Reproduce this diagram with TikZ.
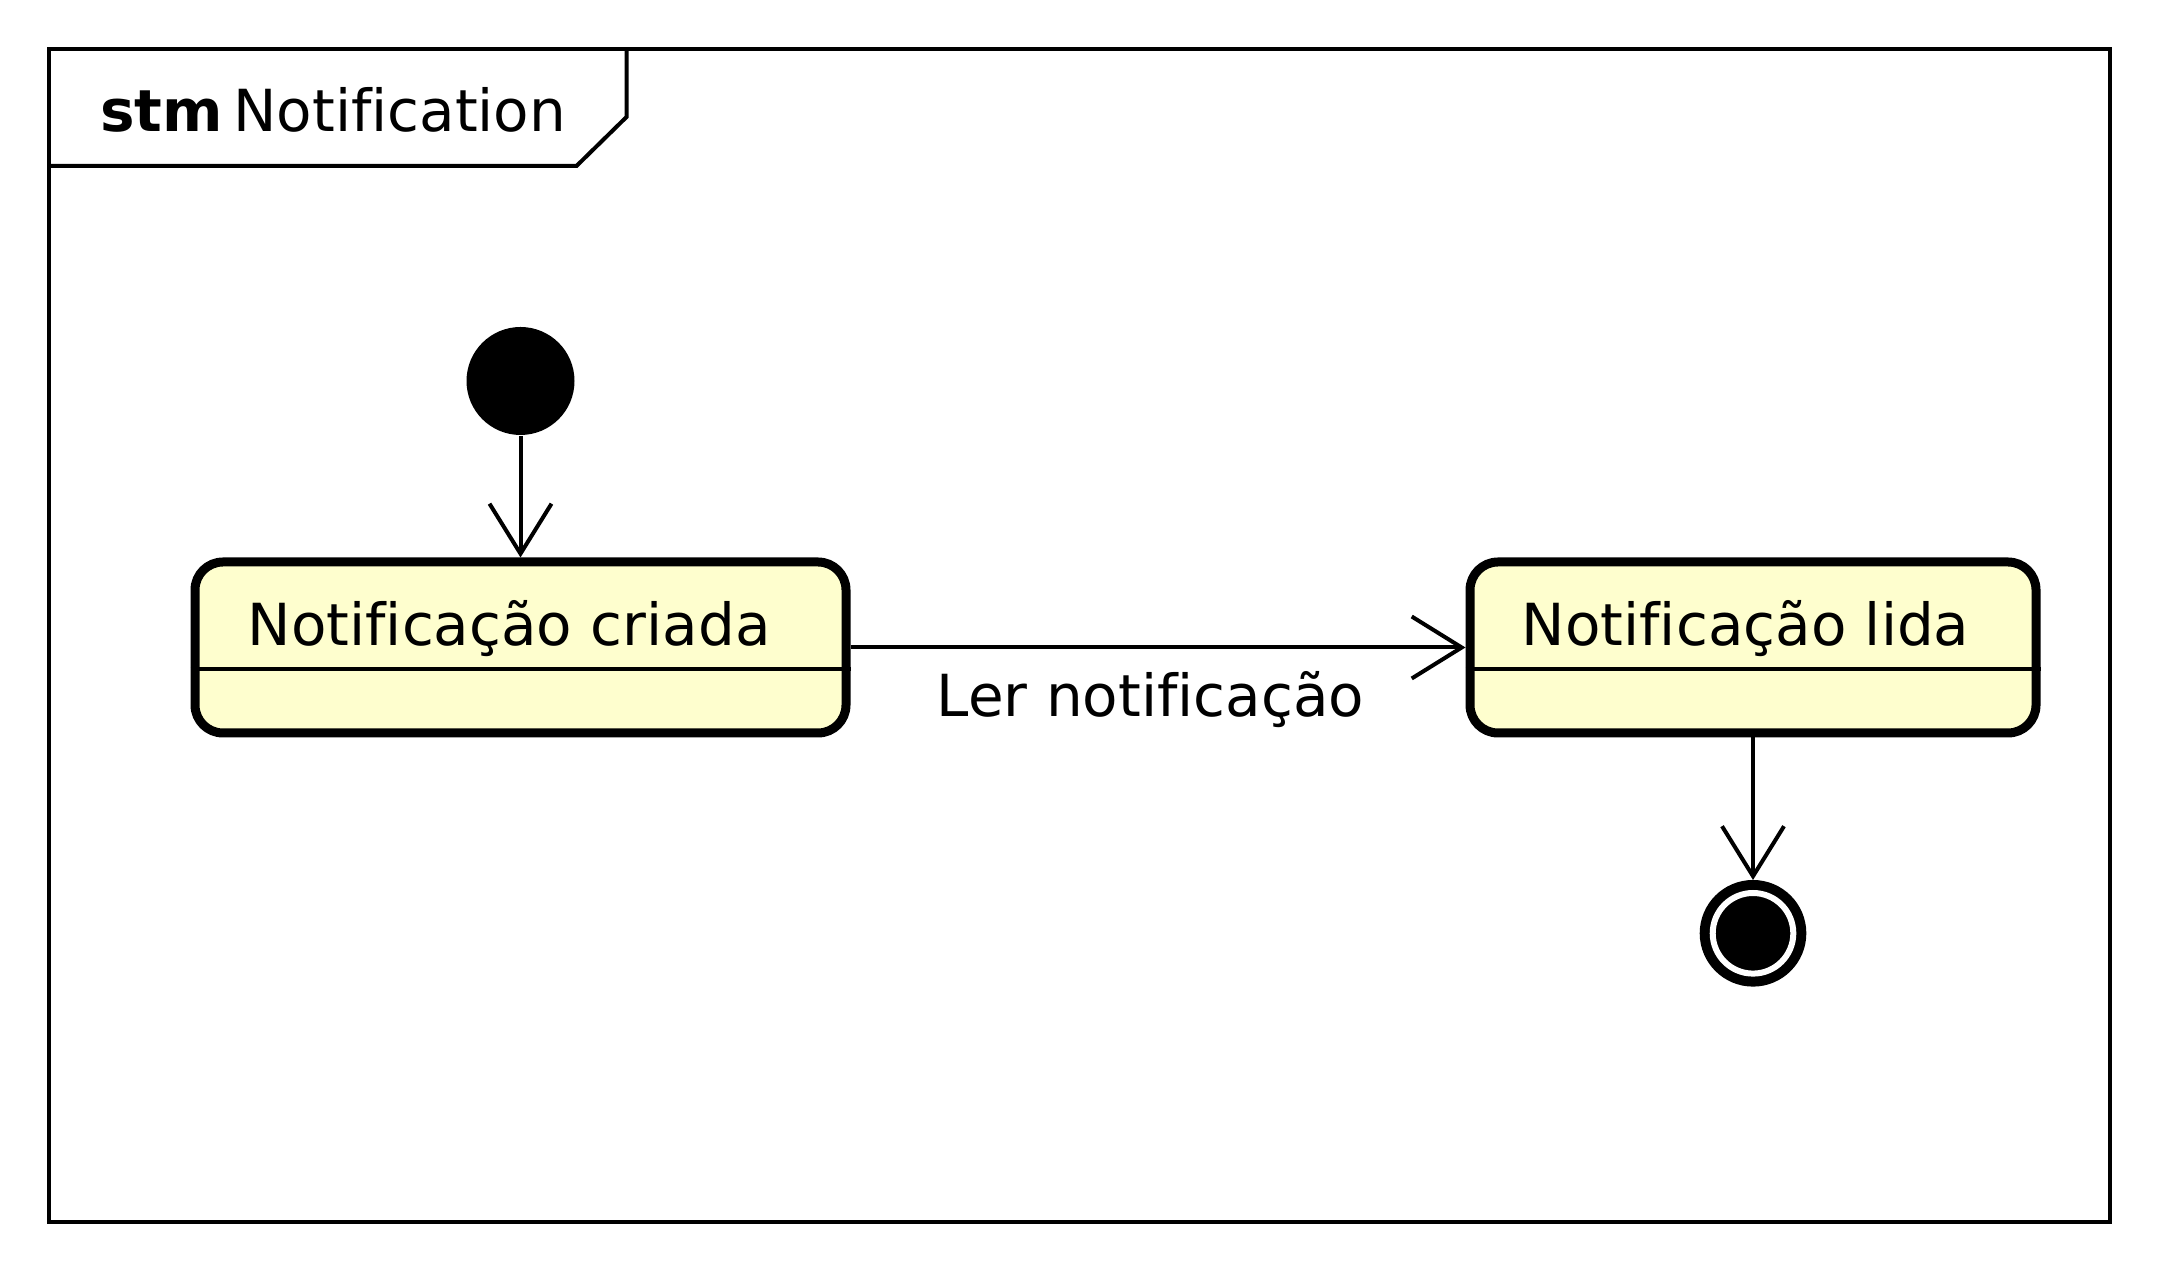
\documentclass[tikz,border=0pt]{standalone}
\usepackage{fontspec}
\setmainfont[Ligatures=NoCommon]{DejaVu Sans}
\usetikzlibrary{arrows.meta}
\definecolor{stateyellow}{RGB}{254,254,206}
\tikzset{
  statebox/.style={draw, line width=2.25pt, fill=stateyellow, rounded corners=7pt, minimum height=42.75pt, inner sep=0pt},
  statetitle/.style={anchor=base west, inner sep=0pt},
  initstate/.style={circle, fill=black, minimum size=27pt, inner sep=0pt},
  finalstate/.style={circle, draw=black, fill=black, double=white, double distance=1.5pt, line width=2.5pt, minimum size=20.15pt, inner sep=0pt, outer sep=3.25pt},
  trans/.style={line width=1pt, -{Straight Barb[length=12.5pt, width=15.5pt]}},
}
\begin{document}
\begin{tikzpicture}[x=0.25pt,y=0.25pt,yscale=-1,xscale=1, font=\fontsize{14.5}{17}\selectfont]
\useasboundingbox (0,0) rectangle (2160,1269);

%Shape: Frame
\draw [line width=1pt]  (48.5,49) -- (2110,49) -- (2110,1222) -- (48.5,1222) -- cycle ;
%Shape: Frame tab
\draw [line width=1pt]  (626.5,49) -- (626.5,117) -- (576.5,166) -- (48.5,166) ;
% Text Node
\node [statetitle] (title) at (99.5,132) {\bfseries stm\mdseries\hspace{2.6pt}Notification};

%Shape: Initial state
\node [initstate] (init) at (520.5,381) {};
%Shape: State box
\node [statebox, minimum width=162.75pt] (created) at (520.5,647.5) {};
\draw [line width=1pt]  (created.west |- 0,669) -- (created.east |- 0,669) ;
%Shape: State box
\node [statebox, minimum width=141.5pt] (read) at (1753,647.5) {};
\draw [line width=1pt]  (read.west |- 0,669) -- (read.east |- 0,669) ;
%Shape: Final state
\node [finalstate] (final) at (1753,933.3) {};

% Text Node
\node [statetitle] (createdtxt) at (247,646) {Notificação criada};
% Text Node
\node [statetitle] (readtxt) at (1521,646) {Notificação lida};
% Text Node
\node [anchor=base, inner sep=0pt] (readlbl) at (1150.5,717) {Ler notificação};

%Straight Lines
\draw [trans]  (init) -- (created) ;
%Straight Lines
\draw [trans]  (created.east) -- (read.west) ;
%Straight Lines
\draw [trans]  (read) -- (final) ;

\end{tikzpicture}
\end{document}
